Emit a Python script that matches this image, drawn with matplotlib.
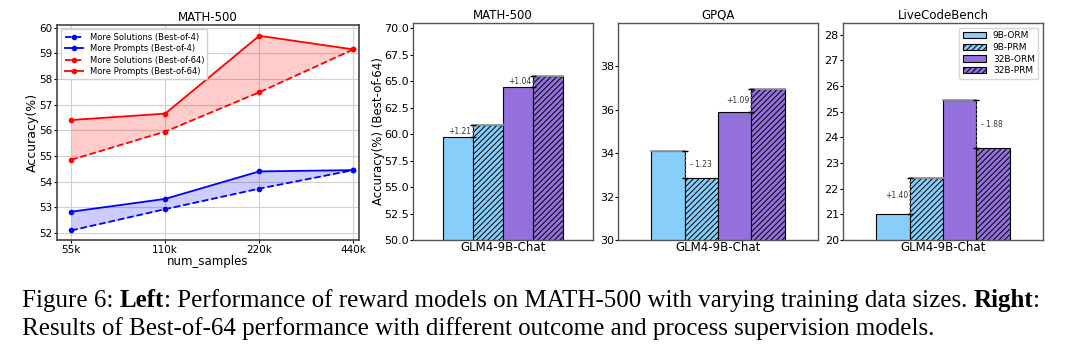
import matplotlib
matplotlib.use("Agg")
import matplotlib.pyplot as plt
import numpy as np

# left panel data
num_samples = ["55k", "110k", "220k", "440k"]
prompts_64 = [56.40, 56.65, 59.68, 59.15]
solutions_64 = [54.85, 55.95, 57.48, 59.15]
prompts_4 = [52.83, 53.33, 54.40, 54.45]
solutions_4 = [52.10, 52.93, 53.73, 54.45]

# right panels data
models = ["9B-ORM", "9B-PRM", "32B-ORM", "32B-PRM"]
math500 = [59.69, 60.90, 64.42, 65.46]
gpqa = [34.10, 32.87, 35.88, 36.97]
livecode = [21.03, 22.43, 25.45, 23.57]

W, H = 1080, 346
fig = plt.figure(figsize=(W / 100, H / 100), dpi=100)
plt.rcParams["hatch.linewidth"] = 0.7

def box(l, t, r, b):
    return [l / W, 1 - b / H, (r - l) / W, (b - t) / H]

# ---- left: line chart
ax = fig.add_axes(box(57, 25, 359, 240))
x = np.arange(len(num_samples))
ax.plot(x, solutions_4, "b--", marker="o", ms=3, lw=1.3, label="More Solutions (Best-of-4)")
ax.plot(x, prompts_4, "b-", marker="o", ms=3, lw=1.3, label="More Prompts (Best-of-4)")
ax.plot(x, solutions_64, "r--", marker="o", ms=3, lw=1.3, label="More Solutions (Best-of-64)")
ax.plot(x, prompts_64, "r-", marker="o", ms=3, lw=1.3, label="More Prompts (Best-of-64)")
ax.fill_between(x, solutions_4, prompts_4, color="blue", alpha=0.2, lw=0)
ax.fill_between(x, solutions_64, prompts_64, color="red", alpha=0.2, lw=0)
ax.set_xticks(x)
ax.set_xticklabels(num_samples)
ax.set_xlim(-0.15, 3.06)
ax.set_ylim(51.73, 60.1)
ax.set_yticks(range(52, 61))
ax.grid(True, color="#d0d0d0", lw=0.8)
ax.set_axisbelow(True)
ax.tick_params(labelsize=7.5, length=2, pad=1.5)
ax.set_title("MATH-500", fontsize=8.5, pad=3)
ax.set_xlabel("num_samples", fontsize=8.5, labelpad=0)
ax.set_ylabel("Accuracy(%)", fontsize=9, labelpad=0)
for s in ax.spines.values():
    s.set_color("#444444")
    s.set_linewidth(1.2)
ax.legend(loc="upper left", fontsize=6, handlelength=2.2, borderpad=0.4,
          labelspacing=0.3, framealpha=0.9)

# ---- right: bar charts
colors = ["#87CEFA", "#87CEFA", "#9370DB", "#9370DB"]
hatches = [None, "//////", None, "//////"]
bw = 0.2
offs = [-0.3, -0.1, 0.1, 0.3]

def bar_panel(rect, title, vals, ylim, yticks, fmt, pairs, ylabel=None, legend=False):
    a = fig.add_axes(rect)
    for i in range(4):
        a.bar(offs[i], vals[i], bw, color=colors[i], edgecolor="black", lw=0.8,
              hatch=hatches[i], label=models[i])
    for i, j in pairs:
        xe = offs[i] + bw / 2
        lo, hi = vals[i], vals[j]
        # gray edge on the taller bar
        k = i if lo > hi else j
        a.plot([offs[k] - bw / 2, offs[k] + bw / 2], [vals[k], vals[k]], color="#999999", lw=1.3)
        a.plot([xe, xe], [lo, hi], ls=":", color="gray", lw=1.2)
        a.plot([xe, xe], [lo, hi], ls="", marker="_", ms=4, color="black", mew=1)
        d = hi - lo
        if d >= 0:
            a.text(xe - 0.01, (lo + hi) / 2, "+%.2f" % d, fontsize=5.5,
                   ha="right", va="center", color="#333333")
        else:
            a.text(xe + 0.03, (lo + hi) / 2, "- %.2f" % -d, fontsize=5.5,
                   ha="left", va="center", color="#333333")
    a.set_xlim(-0.6, 0.6)
    a.set_ylim(*ylim)
    a.set_yticks(yticks)
    a.set_yticklabels([fmt % t for t in yticks])
    a.set_xticks([0])
    a.set_xticklabels(["GLM4-9B-Chat"])
    a.tick_params(labelsize=8, length=2, pad=1)
    a.tick_params(axis="x", labelsize=8.5, length=0, pad=1)
    a.set_title(title, fontsize=8.5, pad=3)
    for s in a.spines.values():
        s.set_color("#555555")
        s.set_linewidth(1.0)
    if ylabel:
        a.set_ylabel(ylabel, fontsize=8.5, labelpad=-1)
    if legend:
        a.legend(loc="upper right", fontsize=6.5, handlelength=2.5, borderpad=0.4,
                 labelspacing=0.3)
    return a

bar_panel(box(413, 23, 593, 240), "MATH-500", math500, (50, 70.5),
          [50 + 2.5 * k for k in range(9)], "%.1f", [(0, 1), (2, 3)],
          ylabel="Accuracy(%) (Best-of-64)")
bar_panel(box(618, 23, 818, 240), "GPQA", gpqa, (30, 40),
          [30, 32, 34, 36, 38], "%d", [(0, 1), (2, 3)])
bar_panel(box(843, 23, 1043, 240), "LiveCodeBench", livecode, (20, 28.45),
          list(range(20, 29)), "%d", [(0, 1), (2, 3)], legend=True)

# ---- caption
serif = "Liberation Serif"
fs = 18
pieces1 = [("Figure 6: ", "normal"), ("Left", "bold"),
           (": Performance of reward models on MATH-500 with varying training data sizes. ", "normal"),
           ("Right", "bold"), (":", "normal")]
fig.canvas.draw()
r = fig.canvas.get_renderer()
xpos = 22 / W
for txt, wgt in pieces1:
    t = fig.text(xpos, 1 - 307 / H, txt, fontsize=fs, family=serif, weight=wgt, va="baseline")
    bb = t.get_window_extent(renderer=r)
    xpos += bb.width / W
fig.text(22 / W, 1 - 335 / H,
         "Results of Best-of-64 performance with different outcome and process supervision models.",
         fontsize=fs, family=serif, va="baseline")

fig.savefig("out.png", dpi=100)
